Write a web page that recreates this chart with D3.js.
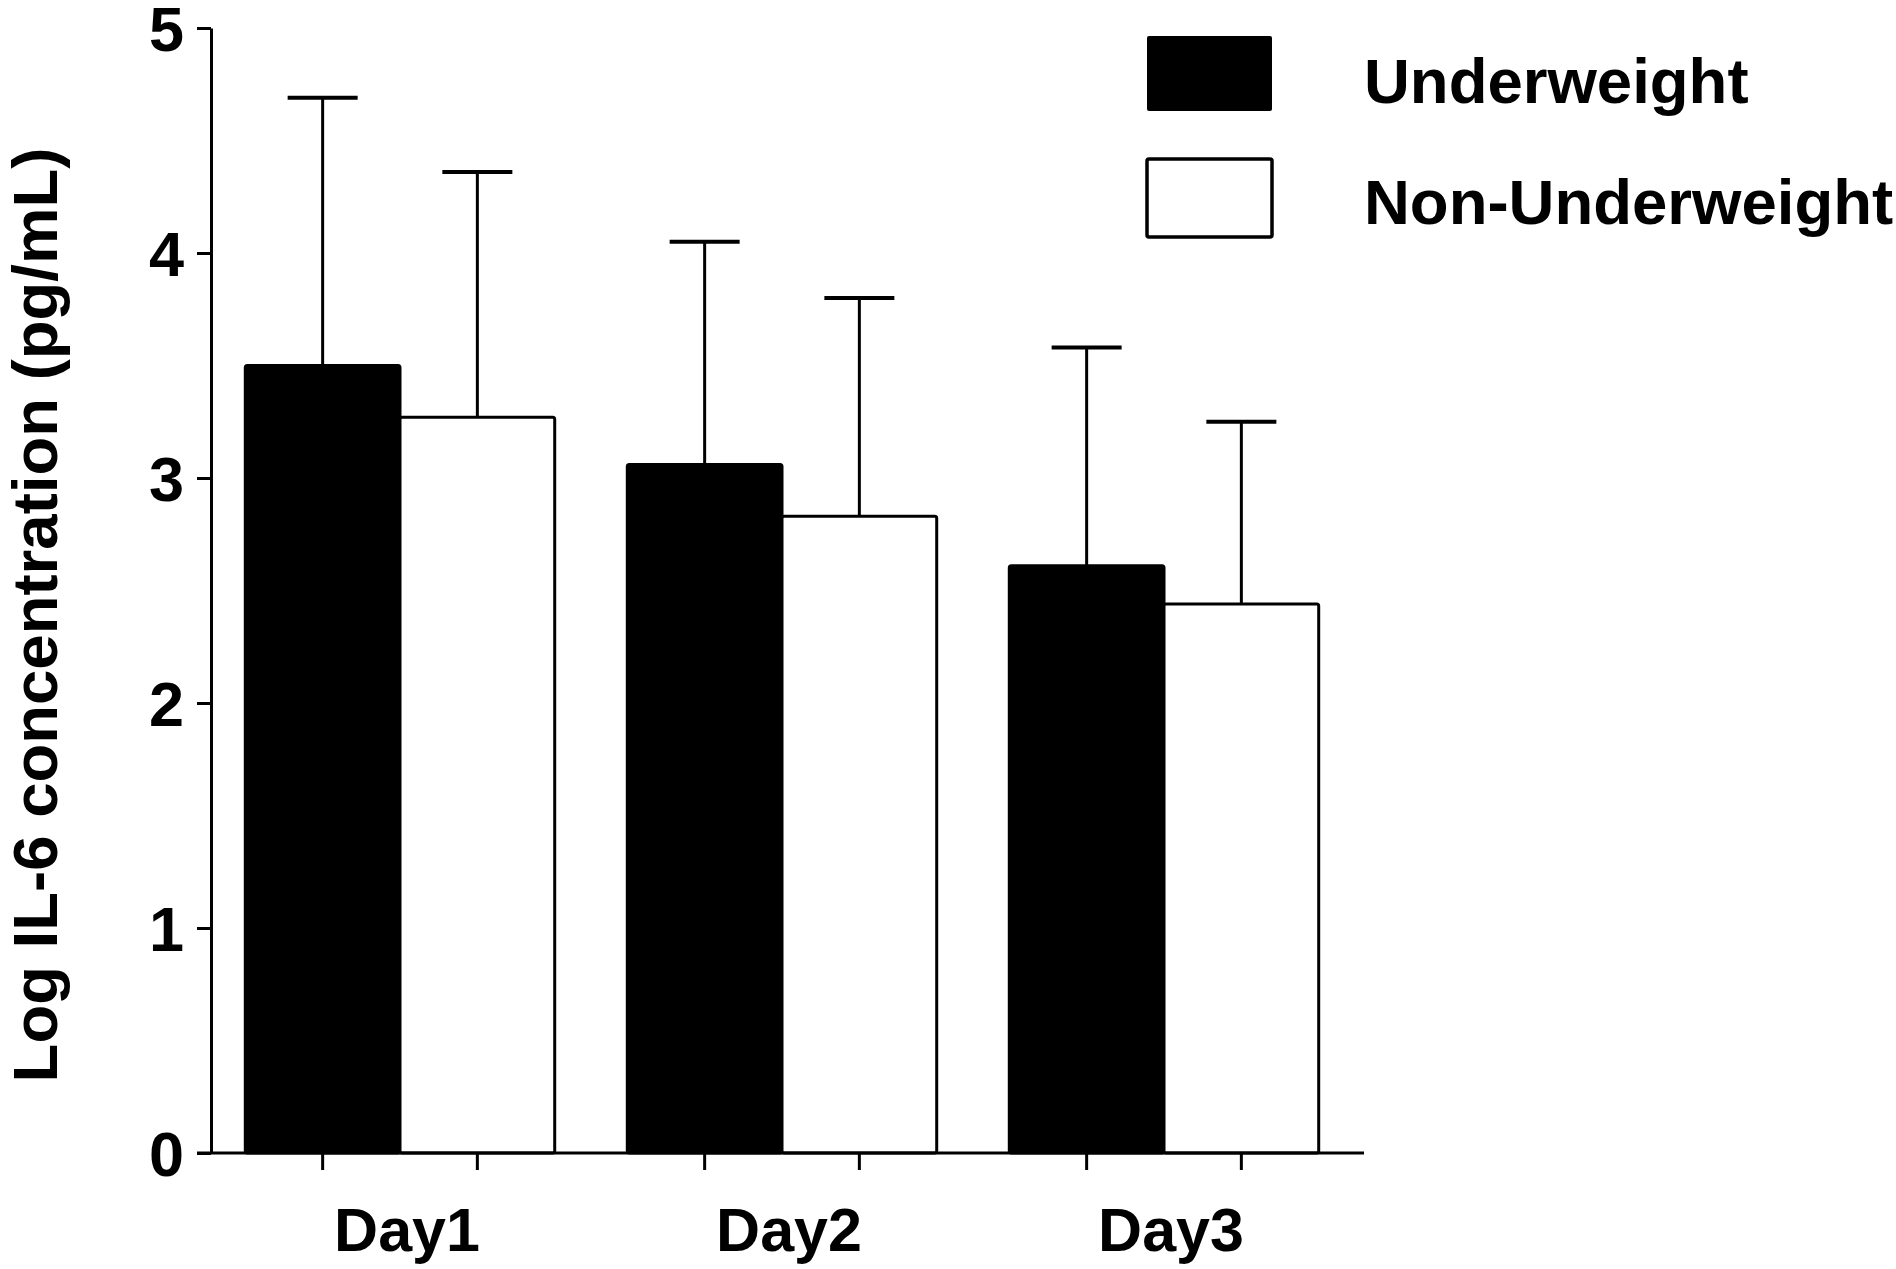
<!DOCTYPE html>
<html>
<head>
<meta charset="utf-8">
<script src="https://cdn.jsdelivr.net/npm/d3@7"></script>
<style>
    body { margin: 0; background: #fff; }
    text { font-family: "Liberation Sans", Arial, sans-serif; font-weight: bold; fill: #000; }
</style>
</head>
<body>
<div id="chart"></div>
<script>
// data
const days = ["Day1", "Day2", "Day3"];
const groups = ["Underweight", "Non-Underweight"];
const underweightMean = [3.50, 3.06, 2.61];
const underweightSD = [1.19, 0.99, 0.97];
const nonUnderweightMean = [3.27, 2.83, 2.44];
const nonUnderweightSD = [1.09, 0.97, 0.81];
const yTicks = [0, 1, 2, 3, 4, 5];
const yTitle = "Log IL-6 concentration (pg/mL)";

const width = 1896, height = 1269;
const fills = {"Underweight": "#000", "Non-Underweight": "#fff"};

let rows = [];
days.forEach((d, i) => {
    rows.push({day: d, group: groups[0], mean: underweightMean[i], sd: underweightSD[i]});
    rows.push({day: d, group: groups[1], mean: nonUnderweightMean[i], sd: nonUnderweightSD[i]});
});

const svg = d3.select("#chart").append("svg")
    .attr("width", width)
    .attr("height", height);

svg.append("rect").attr("width", width).attr("height", height).attr("fill", "#fff");

// scales
const y = d3.scaleLinear().domain([0, 5]).range([1153, 28]);
const x0 = d3.scaleBand().domain(days).range([209, 1355]).paddingInner(0.19).paddingOuter(0.095);
const x1 = d3.scaleBand().domain(groups).range([0, x0.bandwidth()]);
const cx = d => x0(d.day) + x1(d.group) + x1.bandwidth() / 2;

// bars
svg.append("g")
    .selectAll("rect")
    .data(rows)
    .enter().append("rect")
    .attr("x", d => x0(d.day) + x1(d.group))
    .attr("y", d => y(d.mean))
    .attr("width", x1.bandwidth())
    .attr("height", d => y(0) - y(d.mean))
    .attr("rx", 2)
    .attr("fill", d => fills[d.group])
    .attr("stroke", "#000")
    .attr("stroke-width", 3);

// error bars (upper only)
const err = svg.append("g").attr("stroke", "#000");
err.selectAll(".whisker")
    .data(rows)
    .enter().append("line")
    .attr("class", "whisker")
    .attr("x1", cx).attr("x2", cx)
    .attr("y1", d => y(d.mean))
    .attr("y2", d => y(d.mean + d.sd))
    .attr("stroke-width", 3);
err.selectAll(".cap")
    .data(rows)
    .enter().append("line")
    .attr("class", "cap")
    .attr("x1", d => cx(d) - 35).attr("x2", d => cx(d) + 35)
    .attr("y1", d => y(d.mean + d.sd))
    .attr("y2", d => y(d.mean + d.sd))
    .attr("stroke-width", 4);

// y axis
const yAxis = svg.append("g")
    .attr("transform", "translate(211,0)")
    .call(d3.axisLeft(y).tickValues(yTicks).tickFormat(d3.format("d"))
        .tickSize(14).tickSizeOuter(0).tickPadding(13));
yAxis.select(".domain").attr("stroke-width", 3);
yAxis.selectAll(".tick line").attr("stroke-width", 3);
yAxis.selectAll(".tick text")
    .attr("font-size", 63)
    .attr("font-family", "Liberation Sans, Arial, sans-serif")
    .attr("font-weight", "bold")
    .attr("dy", "0.36em");

// x axis line and ticks under each bar
svg.append("line")
    .attr("x1", 197).attr("x2", 1364)
    .attr("y1", y(0)).attr("y2", y(0))
    .attr("stroke", "#000").attr("stroke-width", 3);
svg.append("g")
    .selectAll("line")
    .data(rows)
    .enter().append("line")
    .attr("x1", cx).attr("x2", cx)
    .attr("y1", y(0)).attr("y2", y(0) + 17)
    .attr("stroke", "#000").attr("stroke-width", 3);

// day labels
svg.append("g")
    .selectAll("text")
    .data(days)
    .enter().append("text")
    .attr("x", d => x0(d) + x0.bandwidth() / 2 + 7)
    .attr("y", 1251)
    .attr("text-anchor", "middle")
    .attr("font-size", 61)
    .text(d => d);

// y title
svg.append("text")
    .attr("transform", "translate(57,615) rotate(-90)")
    .attr("text-anchor", "middle")
    .attr("font-size", 63.5)
    .text(yTitle);

// legend
const legend = svg.append("g").attr("transform", "translate(1147,36)");
const item = legend.selectAll("g")
    .data(groups)
    .enter().append("g")
    .attr("transform", (d, i) => `translate(0, ${i * 123})`);
item.append("rect")
    .attr("width", 125)
    .attr("height", (d, i) => i === 0 ? 75 : 78)
    .attr("rx", 2)
    .attr("fill", d => fills[d])
    .attr("stroke", "#000")
    .attr("stroke-width", (d, i) => i === 0 ? 0 : 3.5);
item.append("text")
    .attr("x", 217)
    .attr("y", (d, i) => i === 0 ? 67 : 65)
    .attr("font-size", 63.5)
    .text(d => d);
</script>
</body>
</html>
